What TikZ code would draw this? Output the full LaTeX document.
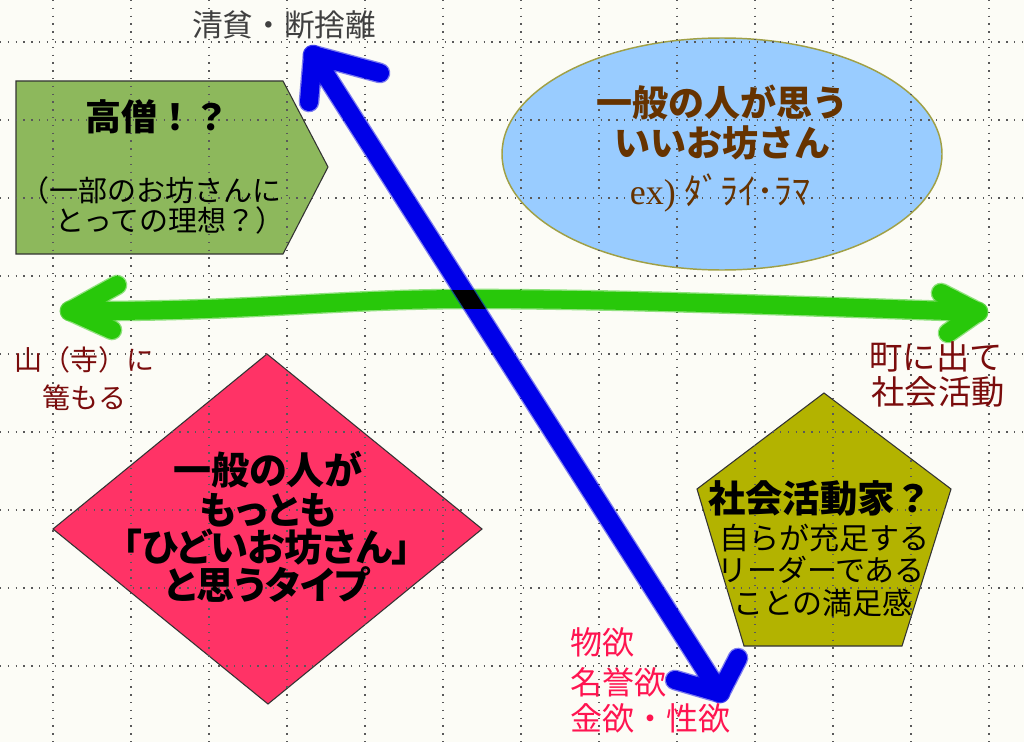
\documentclass[tikz,border=0pt]{standalone}
\usepackage{fontspec}
\newfontfamily\jp{Noto Sans CJK JP}
\newfontfamily\jpp[RawFeature=+palt]{Noto Sans CJK JP}
\newfontfamily\serifx{Liberation Serif}
\newcommand{\myfs}[1]{\fontsize{#1}{#1}\selectfont}
\definecolor{bgc}{RGB}{252,252,246}
\definecolor{boxgreen}{RGB}{141,184,92}
\definecolor{ellblue}{RGB}{153,204,255}
\definecolor{ellline}{RGB}{160,160,70}
\definecolor{diapink}{RGB}{255,51,102}
\definecolor{pentolive}{RGB}{179,179,0}
\definecolor{brownt}{RGB}{102,51,0}
\definecolor{darkredt}{RGB}{122,12,12}
\definecolor{pinkt}{RGB}{255,20,80}
\definecolor{graytext}{RGB}{64,64,64}
\definecolor{arrgreen}{RGB}{40,200,10}
\definecolor{arrblue}{RGB}{0,0,232}
\tikzset{
  gridline/.style={draw=black!65, line width=0.9pt, dash pattern=on 1.1pt off 4.75pt},
  shapeline/.style={draw=black!80, line width=0.8pt},
  halo/.style={line width=15.5pt, line cap=round, line join=round, opacity=0.5},
  core/.style={line width=13.5pt, line cap=round, line join=round},
  txt/.style={inner sep=0pt, outer sep=0pt},
}
\begin{document}
\begin{tikzpicture}[x=0.75pt,y=-0.75pt]
\useasboundingbox (0,0) rectangle (1024,742);
\fill[bgc] (0,0) rectangle (1024,742);

% shapes
\filldraw[fill=boxgreen, shapeline] (16,81) -- (283,81) -- (328,167) -- (283,254) -- (16,254) -- cycle;
\filldraw[fill=ellblue, draw=ellline, line width=1.1pt] (722,154) ellipse [x radius=220, y radius=116];
\filldraw[fill=diapink, shapeline] (267,354) -- (482,529) -- (268,704) -- (53,529) -- cycle;
\filldraw[fill=pentolive, shapeline] (824,393) -- (951,489) -- (902,646) -- (744,646) -- (697,489) -- cycle;

% grid
\foreach \x in {53,131,...,989} \draw[gridline] (\x,0) -- (\x,742);
\foreach \y in {42,120,...,666} \draw[gridline] (0,\y) -- (1024,\y);

% green arrow
\coordinate (gL) at (70,311);
\coordinate (gM) at (470,299);
\coordinate (gR) at (978,312);
\coordinate (gLa) at (117,285);
\coordinate (gLb) at (112,330);
\coordinate (gRa) at (941,293);
\coordinate (gRb) at (948,333);
\foreach \st in {halo,core}{
  \draw[\st, arrgreen] (gL) .. controls (250,312) and (330,299) .. (gM) .. controls (620,299) and (800,306) .. (gR);
  \draw[\st, arrgreen] (gLa) -- (gL) -- (gLb);
  \draw[\st, arrgreen] (gRa) -- (gR) -- (gRb);
}
% blue arrow
\coordinate (bT) at (313,55);
\coordinate (bB) at (720,693);
\coordinate (bTa) at (309,102);
\coordinate (bTb) at (380,73);
\coordinate (bBa) at (738,658);
\coordinate (bBb) at (675,680);
\foreach \st in {halo,core}{
  \draw[\st, arrblue] (bT) -- (bB);
  \draw[\st, arrblue] (bTa) -- (bT) -- (bTb);
  \draw[\st, arrblue] (bBa) -- (bB) -- (bBb);
}
\begin{scope}
  \clip (420,290) rectangle (520,308.5);
  \draw[core, black] (bT) -- (bB);
\end{scope}

% texts
\node[txt, text=graytext, font=\jp\myfs{23pt}] (ttop) at (284,25) {清貧・断捨離};

\node[txt, font=\jp\bfseries\myfs{27pt}] (g1) at (157,117) {高僧！？};
\node[txt, font=\jp\myfs{21.75pt}] (g2) at (151,190) {（一部のお坊さんに};
\node[txt, font=\jp\myfs{21.75pt}] (g3) at (170,220) {とっての理想？）};

\node[txt, text=brownt, font=\jp\bfseries\myfs{27pt}] (e1) at (722,102) {一般の人が思う};
\node[txt, text=brownt, font=\jp\bfseries\myfs{27pt}] (e2) at (722,143) {いいお坊さん};
\node[txt, text=brownt, font=\jp\myfs{27pt}] (e3) at (720,193) {{\serifx ex)} ﾀﾞﾗｲ･ﾗﾏ};

\node[txt, text=darkredt, font=\jp\myfs{21pt}] (l1) at (84,360) {山（寺）に};
\node[txt, text=darkredt, font=\jp\myfs{21pt}] (l2) at (84,398) {篭もる};
\node[txt, text=darkredt, font=\jp\myfs{25pt}] (r1) at (936,357) {町に出て};
\node[txt, text=darkredt, font=\jp\myfs{25pt}] (r2) at (938,392) {社会活動};

\node[txt, font=\jpp\bfseries\myfs{28.5pt}] (d1) at (268,470) {一般の人が};
\node[txt, font=\jpp\bfseries\myfs{28.5pt}] (d2) at (268,510) {もっとも};
\node[txt, font=\jpp\bfseries\myfs{28.5pt}] (d3) at (267,547) {「ひどいお坊さん」};
\node[txt, font=\jpp\bfseries\myfs{28.5pt}] (d4) at (267,585) {と思うタイプ};

\node[txt, font=\jp\bfseries\myfs{28pt}] (p1) at (820,498) {社会活動家？};
\node[txt, font=\jp\myfs{22.5pt}] (p2) at (824,538) {自らが充足する};
\node[txt, font=\jp\myfs{22.5pt}] (p3) at (821,570) {リーダーである};
\node[txt, font=\jp\myfs{22.5pt}] (p4) at (823,603) {ことの満足感};

\node[txt, anchor=west, text=pinkt, font=\jp\myfs{24pt}] (b1) at (570,642) {物欲};
\node[txt, anchor=west, text=pinkt, font=\jp\myfs{24pt}] (b2) at (570,682) {名誉欲};
\node[txt, anchor=west, text=pinkt, font=\jp\myfs{24pt}] (b3) at (570,718) {金欲・性欲};
\end{tikzpicture}
\end{document}
